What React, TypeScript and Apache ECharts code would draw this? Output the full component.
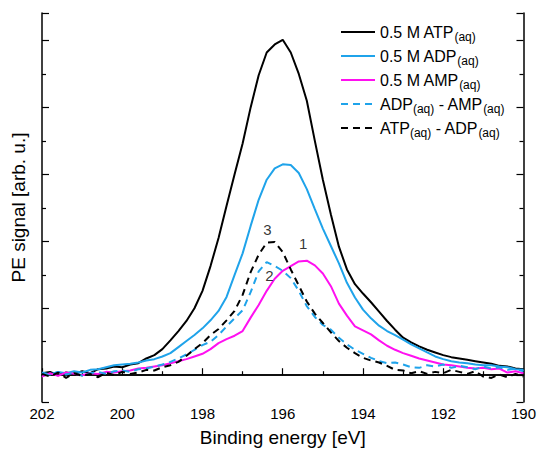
import React, { useEffect, useRef } from "react";
import * as echarts from "echarts";

const energy = [
  202.0, 201.8, 201.6, 201.4, 201.2, 201.0, 200.8, 200.6, 200.4, 200.2,
  200.0, 199.8, 199.6, 199.4, 199.2, 199.0, 198.8, 198.6, 198.4, 198.2,
  198.0, 197.8, 197.6, 197.4, 197.2, 197.0, 196.8, 196.6, 196.4, 196.2,
  196.0, 195.8, 195.6, 195.4, 195.2, 195.0, 194.8, 194.6, 194.4, 194.2,
  194.0, 193.8, 193.6, 193.4, 193.2, 193.0, 192.8, 192.6, 192.4, 192.2,
  192.0, 191.8, 191.6, 191.4, 191.2, 191.0, 190.8, 190.6, 190.4, 190.2,
  190.0,
];

const atp = [
  0.3, 0.5, 0.0, 0.4, 0.2, 0.6, 0.3, 0.9, 1.0, 1.3,
  1.2, 1.6, 1.8, 2.5, 3.0, 3.9, 5.2, 6.6, 8.1, 10.0,
  12.6, 16.3, 20.5, 25.3, 30.0, 34.6, 40.0, 44.8, 48.2, 49.4,
  50.1, 48.2, 45.0, 41.0, 35.0, 29.2, 24.0, 19.2, 15.8, 13.6,
  12.2, 10.9, 9.5, 8.1, 6.8, 5.6, 4.9, 4.3, 3.8, 3.4,
  3.0, 2.7, 2.5, 2.3, 2.1, 1.9, 1.7, 1.4, 1.3, 1.0,
  0.9,
];

const adp = [
  0.4, 0.1, 0.5, 0.3, 0.6, 0.4, 0.8, 0.9, 1.2, 1.5,
  1.6, 1.7, 1.9, 2.2, 2.4, 2.8, 3.3, 4.2, 5.1, 6.0,
  7.0, 8.2, 9.6, 11.7, 15.0, 18.2, 22.3, 26.2, 29.2, 30.9,
  31.5, 31.4, 30.2, 27.8, 24.8, 21.9, 19.3, 16.7, 13.8, 11.6,
  9.8, 8.5, 7.4, 6.6, 6.0, 5.3, 4.6, 4.0, 3.4, 2.8,
  2.4, 2.1, 1.9, 1.8, 1.6, 1.5, 1.5, 1.3, 1.2, 0.9,
  0.8,
];

const amp = [
  -0.2, 0.3, -0.1, 0.4, 0.2, 0.0, 0.3, 0.2, 0.5, 0.4,
  0.6, 0.7, 1.0, 1.1, 1.3, 1.5, 1.8, 2.1, 2.4, 2.8,
  3.2, 3.9, 4.8, 5.4, 5.9, 6.6, 8.6, 10.5, 12.6, 14.4,
  15.6, 16.3, 17.0, 17.1, 16.4, 15.2, 13.3, 10.7, 8.9, 7.3,
  6.7, 6.1, 5.2, 4.4, 3.8, 3.3, 2.9, 2.5, 2.2, 1.9,
  1.6, 1.5, 1.3, 1.1, 1.0, 1.1, 0.9, 1.0, 0.4, 0.6,
  0.3,
];

const adpMinusAmp = [
  0.3, 0.0, 0.5, 0.1, 0.4, -0.1, 0.3, 0.5, 0.2, 0.6,
  0.7, 0.5, 0.9, 1.0, 1.3, 1.6, 2.0, 2.5, 3.1, 3.8,
  4.5, 5.0, 6.0, 7.3, 8.5, 9.7, 12.4, 15.5, 16.9, 16.3,
  15.6, 14.5, 12.6, 10.3, 8.7, 7.5, 6.8, 5.6, 4.6, 3.8,
  3.2, 2.6, 2.1, 1.8, 1.9, 1.6, 1.2, 1.1, 1.5, 1.3,
  1.6, 1.1, 1.4, 1.2, 0.9, 1.3, 1.0, 1.2, 0.8, 1.0,
  0.6,
];

const atpMinusAdp = [
  0.2, -0.2, 0.4, -0.4, 0.3, -0.1, 0.2, -0.3, 0.4, 0.0,
  0.5, 0.2, 0.4, 0.8, 0.7, 1.2, 1.5, 2.0, 2.9, 3.9,
  4.8, 6.0, 6.9, 8.2, 9.6, 12.0, 15.4, 18.0, 19.8, 19.9,
  18.4, 15.8, 13.4, 11.0, 9.2, 7.8, 6.4, 5.1, 4.1, 3.3,
  2.6, 2.2, 1.9, 1.4, 0.8, 0.7, 0.3, 0.6, 0.2, 0.5,
  0.3, 0.8, 0.5, 0.2, 0.6, -0.2, -0.4, 0.1, -0.3, 0.2,
  -0.2,
];

const seriesNames = ["ATP", "ADP", "AMP", "ADP-AMP", "ATP-ADP"];
const legendLabels: Record<string, string> = {
  "ATP": "0.5 M ATP{s|(aq)}",
  "ADP": "0.5 M ADP{s|(aq)}",
  "AMP": "0.5 M AMP{s|(aq)}",
  "ADP-AMP": "ADP{s|(aq)} - AMP{s|(aq)}",
  "ATP-ADP": "ATP{s|(aq)} - ADP{s|(aq)}",
};

const peakLabels = ["1", "2", "3"];
const peakLabelEnergy = [195.49, 196.33, 196.38];
const peakLabelSignal = [19.6, 14.9, 21.8];

const xTicks = { min: 190, max: 202, interval: 2 };
const yRange = { min: -4, max: 54.1 };

const BLUE = "#1fa3ea";
const MAGENTA = "#ff10f0";
const FONT = "Liberation Sans, Arial, sans-serif";

function pairs(vals: number[]) {
  return energy.map((e, i) => [e, vals[i]]);
}

export default function App() {
  const ref = useRef<HTMLDivElement>(null);

  useEffect(() => {
    if (!ref.current) return;
    const chart = echarts.init(ref.current, undefined, { renderer: "svg" });

    const lineSeries = (name: string, vals: number[], color: string, dashed: boolean) => ({
      name,
      type: "line",
      data: pairs(vals),
      showSymbol: false,
      symbol: "none",
      lineStyle: { color, width: 2, type: dashed ? [7, 5] : "solid" },
      itemStyle: { color },
      silent: true,
      z: 3,
    });

    chart.setOption({
      animation: false,
      textStyle: { fontFamily: FONT },
      grid: { left: 42, right: 14, top: 13, bottom: 56, containLabel: false },
      xAxis: [
        {
          type: "value",
          inverse: true,
          min: xTicks.min,
          max: xTicks.max,
          interval: xTicks.interval,
          position: "bottom",
          name: "Binding energy [eV]",
          nameLocation: "middle",
          nameGap: 26,
          nameTextStyle: { fontSize: 19, color: "#000", fontFamily: FONT },
          axisLine: { show: true, lineStyle: { color: "#000", width: 1.5 } },
          axisTick: { show: true, inside: true, length: 7, lineStyle: { color: "#000", width: 1.2 } },
          minorTick: { show: true, splitNumber: 2, length: 4, lineStyle: { color: "#000", width: 1.2 } },
          axisLabel: { show: true, fontSize: 15, color: "#000", margin: 4, fontFamily: FONT },
          splitLine: { show: false },
        },
        {
          type: "value",
          inverse: true,
          min: xTicks.min,
          max: xTicks.max,
          position: "top",
          axisLine: { show: true, lineStyle: { color: "#000", width: 1.5 } },
          axisTick: { show: false },
          axisLabel: { show: false },
          splitLine: { show: false },
        },
      ],
      yAxis: [
        {
          type: "value",
          min: yRange.min,
          max: yRange.max,
          splitNumber: 5,
          position: "left",
          name: "PE signal [arb. u.]",
          nameLocation: "middle",
          nameGap: 14,
          nameTextStyle: { fontSize: 19, color: "#000", fontFamily: FONT },
          axisLine: { show: true, lineStyle: { color: "#000", width: 1.5 } },
          axisTick: { show: true, inside: true, length: 7, lineStyle: { color: "#000", width: 1.2 } },
          minorTick: { show: true, splitNumber: 2, length: 4, lineStyle: { color: "#000", width: 1.2 } },
          axisLabel: { show: false },
          splitLine: { show: false },
        },
        {
          type: "value",
          min: yRange.min,
          max: yRange.max,
          splitNumber: 5,
          position: "right",
          axisLine: { show: true, lineStyle: { color: "#000", width: 1.5 } },
          axisTick: { show: true, inside: true, length: 7, lineStyle: { color: "#000", width: 1.2 } },
          minorTick: { show: true, splitNumber: 2, length: 4, lineStyle: { color: "#000", width: 1.2 } },
          axisLabel: { show: false },
          splitLine: { show: false },
        },
      ],
      legend: {
        data: seriesNames,
        orient: "vertical",
        left: 335,
        top: 16,
        itemWidth: 34,
        itemHeight: 14,
        itemGap: 2,
        selectedMode: false,
        itemStyle: { opacity: 0, borderWidth: 0 },
        formatter: (name: string) => legendLabels[name],
        textStyle: {
          fontSize: 16,
          color: "#000",
          fontFamily: FONT,
          lineHeight: 22,
          rich: {
            s: { fontSize: 12, lineHeight: 12, verticalAlign: "bottom", color: "#000", fontFamily: FONT },
          },
        },
      },
      series: [
        lineSeries("ATP", atp, "#000000", false),
        lineSeries("ADP", adp, BLUE, false),
        lineSeries("AMP", amp, MAGENTA, false),
        lineSeries("ADP-AMP", adpMinusAmp, BLUE, true),
        lineSeries("ATP-ADP", atpMinusAdp, "#000000", true),
        {
          name: "labels",
          type: "scatter",
          symbolSize: 0,
          silent: true,
          data: peakLabels.map((t, i) => ({ value: [peakLabelEnergy[i], peakLabelSignal[i]], name: t })),
          label: {
            show: true,
            position: "inside",
            formatter: (p: any) => p.name,
            fontSize: 15,
            color: "#000",
            fontFamily: FONT,
          },
          z: 5,
        },
      ],
    });

    return () => chart.dispose();
  }, []);

  return <div ref={ref} style={{ width: 539, height: 458, position: "absolute", left: 0, top: 0 }} />;
}
